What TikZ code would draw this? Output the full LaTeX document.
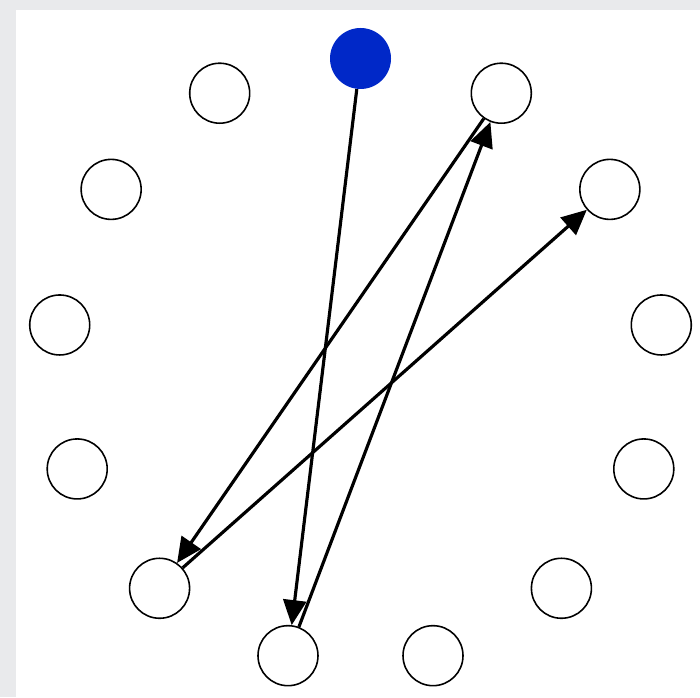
\documentclass[tikz,border=0pt]{standalone}
\usepackage{tikz}
\usetikzlibrary{arrows.meta,calc,positioning}
\definecolor{ringblue}{RGB}{0,40,200}
\definecolor{paneback}{RGB}{233,234,236}

\begin{document}
\begin{tikzpicture}[
    vertex/.style={circle, draw, line width=0.9pt, minimum size=1.2cm, inner sep=0pt},
    start/.style={circle, fill=ringblue, minimum size=1.22cm, inner sep=0pt},
    hop/.style={-{Triangle[length=0.5cm, width=0.46cm]}, line width=1.8pt}]
    \useasboundingbox (0,0) rectangle (14,13.94);
    \fill[paneback] (0,0) rectangle (14,13.94);
    \fill[white] (0.32,0) rectangle (14,13.74);

    \coordinate (mid) at (7.21,6.71);
    \node[start] (n0) at ($(mid)+(90:6.06)$) {};
    \foreach \i in {1,...,12}
        \node[vertex] (n\i) at ($(mid)+({90-\i*360/13}:6.06)$) {};

    \draw[hop] (n0) -- (n7);
    \draw[hop] (n7) -- (n1);
    \draw[hop] (n1) -- (n8);
    \draw[hop] (n8) -- (n2);
\end{tikzpicture}
\end{document}
